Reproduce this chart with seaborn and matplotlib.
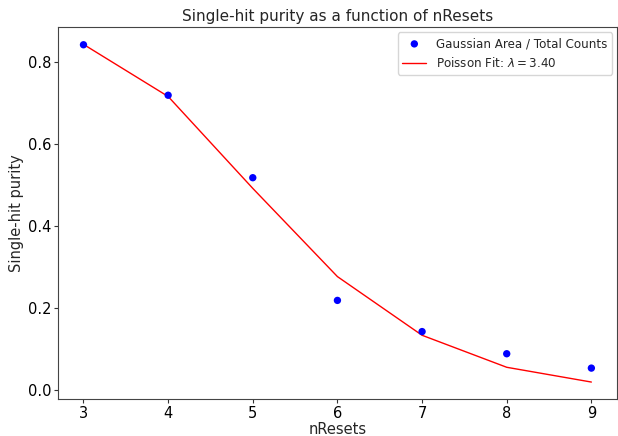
import matplotlib
matplotlib.use("Agg")
import matplotlib.pyplot as plt
import seaborn as sns
import pandas as pd

n_resets = [3, 4, 5, 6, 7, 8, 9]
purity = [0.842, 0.719, 0.518, 0.219, 0.143, 0.089, 0.054]
poisson_fit = [0.843, 0.716, 0.492, 0.277, 0.134, 0.056, 0.020]

df = pd.DataFrame({"nResets": n_resets, "purity": purity, "fit": poisson_fit})

sns.set_style("white")
plt.rcParams["font.family"] = ["DejaVu Sans"]
plt.rcParams["mathtext.fontset"] = "dejavusans"

fig, ax = plt.subplots(figsize=(6.18, 4.36), dpi=100)
sns.scatterplot(data=df, x="nResets", y="purity", color="blue", s=28,
                edgecolor="none", label="Gaussian Area / Total Counts", ax=ax, zorder=3)
sns.lineplot(data=df, x="nResets", y="fit", color="red", linewidth=1.0,
             label=r"Poisson Fit: $\lambda = 3.40$", ax=ax)

ax.set_title("Single-hit purity as a function of nResets", fontsize=11, pad=5)
ax.set_xlabel("nResets", fontsize=10.5, labelpad=1)
ax.set_ylabel("Single-hit purity", fontsize=10.5, labelpad=3)
ax.tick_params(axis="both", labelsize=10.5, direction="out", length=3, width=0.8,
               pad=1.8, left=True, bottom=True, colors="#333333", labelcolor="black")
for s in ax.spines.values():
    s.set_color("#444444")
    s.set_linewidth(0.8)
ax.set_yticks([0.0, 0.2, 0.4, 0.6, 0.8])
ax.legend(loc="upper right", fontsize=8.6, frameon=True, borderaxespad=0.4)

fig.subplots_adjust(left=0.094, right=0.998, bottom=0.085, top=0.937)
fig.savefig("out.png", dpi=100)
